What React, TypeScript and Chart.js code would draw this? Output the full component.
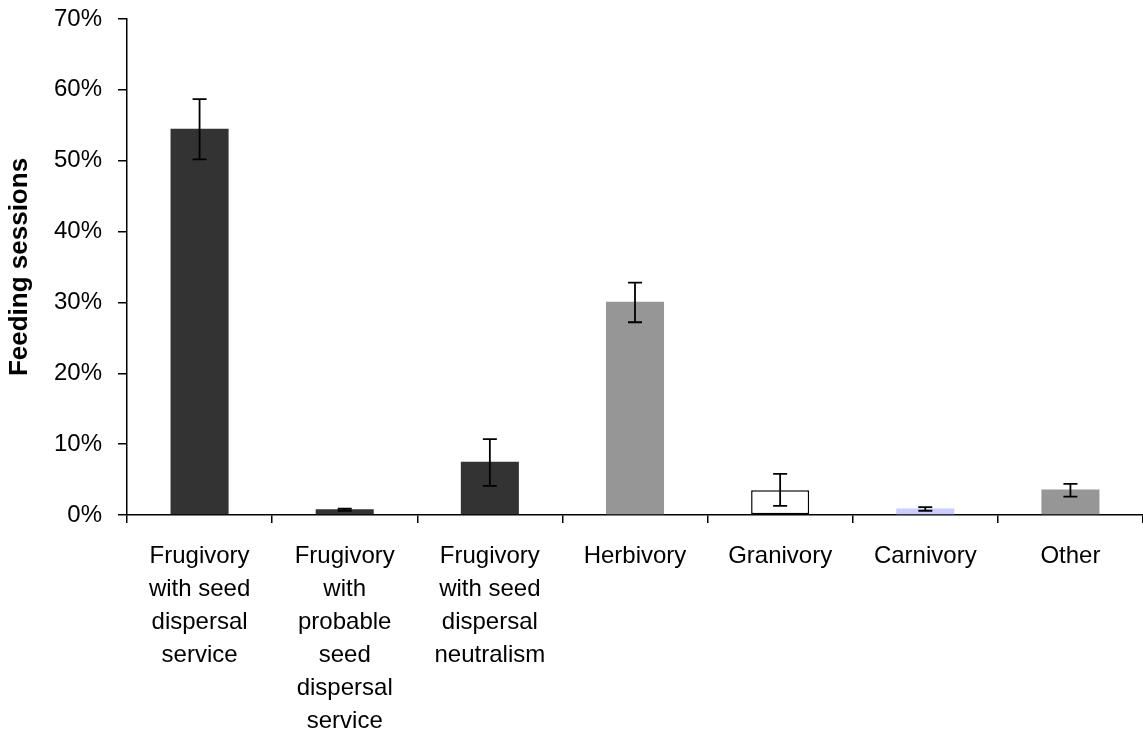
import React, { useEffect, useRef } from "react";
import { Chart, registerables } from "chart.js";

Chart.register(...registerables);

const categories: string[][] = [
  ["Frugivory", "with seed", "dispersal", "service"],
  ["Frugivory", "with", "probable", "seed", "dispersal", "service"],
  ["Frugivory", "with seed", "dispersal", "neutralism"],
  ["Herbivory"],
  ["Granivory"],
  ["Carnivory"],
  ["Other"],
];
const values: number[] = [54.5, 0.8, 7.5, 30.1, 3.5, 0.9, 3.6];
const errHigh: number[] = [58.7, 0.9, 10.7, 32.8, 5.8, 1.1, 4.4];
const errLow: number[] = [50.2, 0.6, 4.1, 27.2, 1.3, 0.6, 2.6];
const barColors: string[] = ["#333333", "#333333", "#333333", "#969696", "#ffffff", "#ccccff", "#969696"];
const borderWidths: number[] = [0, 0, 0, 0, 1.5, 0, 0];
const yTicks: number[] = [0, 10, 20, 30, 40, 50, 60, 70];

const FONT = "'Liberation Sans', Arial, sans-serif";

const errorBarPlugin = {
  id: "errorBars",
  afterDatasetsDraw(chart: any) {
    const ctx = chart.ctx;
    const meta = chart.getDatasetMeta(0);
    const y = chart.scales.y;
    ctx.save();
    ctx.strokeStyle = "#000";
    ctx.lineWidth = 1.8;
    meta.data.forEach((bar: any, i: number) => {
      const x = bar.x;
      const yh = y.getPixelForValue(errHigh[i]);
      const yl = y.getPixelForValue(errLow[i]);
      const cap = 7;
      ctx.beginPath();
      ctx.moveTo(x, yh);
      ctx.lineTo(x, yl);
      ctx.moveTo(x - cap, yh);
      ctx.lineTo(x + cap, yh);
      ctx.moveTo(x - cap, yl);
      ctx.lineTo(x + cap, yl);
      ctx.stroke();
    });
    ctx.restore();
  },
};

export default function App() {
  const ref = useRef<HTMLCanvasElement>(null);
  useEffect(() => {
    if (!ref.current) return;
    const chart = new Chart(ref.current, {
      type: "bar",
      data: {
        labels: categories,
        datasets: [
          {
            data: values,
            backgroundColor: barColors,
            borderColor: "#000",
            borderWidth: borderWidths,
            borderSkipped: false,
            categoryPercentage: 0.4,
            barPercentage: 1,
          },
        ],
      },
      options: {
        responsive: false,
        animation: false,
        layout: { padding: { top: 19, right: 0, left: 0, bottom: 0 } },
        plugins: { legend: { display: false }, tooltip: { enabled: false } },
        scales: {
          x: {
            grid: {
              offset: true,
              drawOnChartArea: false,
              drawTicks: true,
              tickLength: 8,
              color: "#000",
              lineWidth: 1.5,
            },
            border: { color: "#000", width: 1.5 },
            ticks: {
              color: "#000",
              font: { family: FONT, size: 24, lineHeight: 1.375 },
              maxRotation: 0,
              autoSkip: false,
              padding: 17,
            },
            afterFit: (s: any) => {
              s.height = 225;
              s.paddingLeft = 0;
              s.paddingRight = 0;
            },
          },
          y: {
            min: 0,
            max: 70,
            afterBuildTicks: (s: any) => {
              s.ticks = yTicks.map((v) => ({ value: v }));
            },
            grid: {
              drawOnChartArea: false,
              drawTicks: true,
              tickLength: 9,
              color: "#000",
              lineWidth: 1.5,
            },
            border: { color: "#000", width: 1.5 },
            ticks: {
              color: "#000",
              font: { family: FONT, size: 24 },
              padding: 16,
              callback: (v: any) => `${v}%`,
            },
            title: {
              display: true,
              text: "Feeding sessions",
              color: "#000",
              font: { family: FONT, size: 26, weight: "bold" },
              padding: { top: 4, bottom: 0 },
            },
            afterFit: (s: any) => {
              s.width = 127;
              s.paddingTop = 0;
              s.paddingBottom = 0;
            },
          },
        },
      },
      plugins: [errorBarPlugin],
    });
    return () => chart.destroy();
  }, []);
  return (
    <div style={{ position: "absolute", left: 0, top: 0, width: 1143, height: 740, background: "#fff" }}>
      <canvas ref={ref} width={1143} height={740} style={{ width: 1143, height: 740 }} />
    </div>
  );
}
